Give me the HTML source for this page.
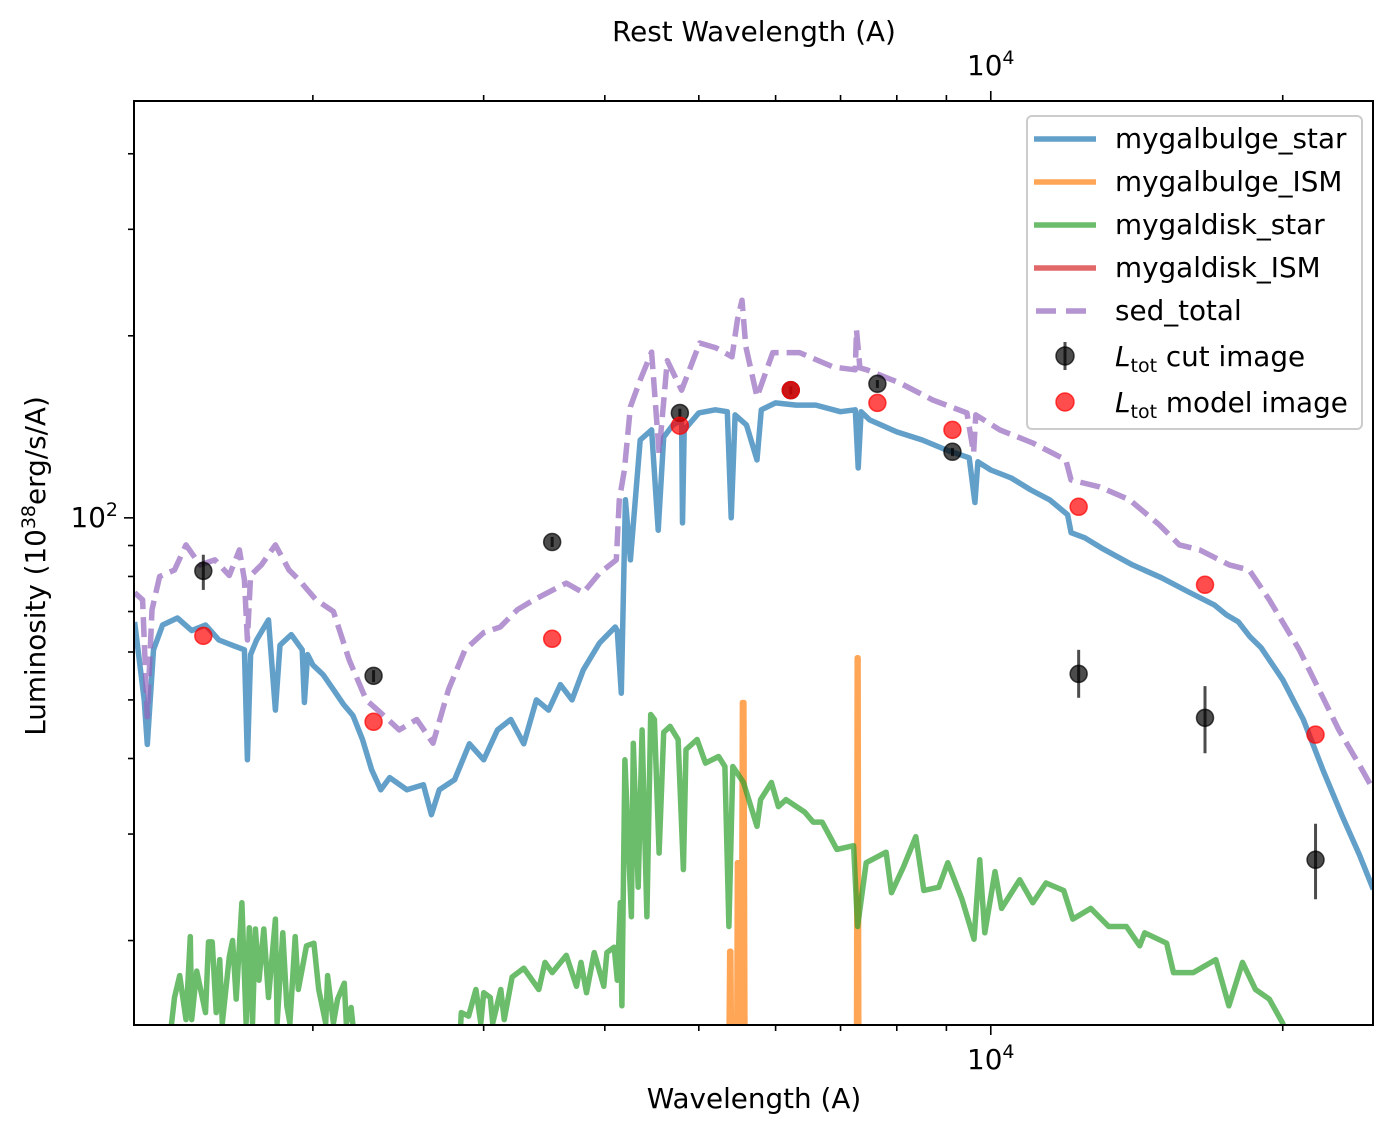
<!DOCTYPE html>
<html><head><meta charset="utf-8"><style>
html,body{margin:0;padding:0;background:#fff;width:1394px;height:1134px;overflow:hidden;position:relative}
svg{display:block;position:absolute;left:0;top:0;font-family:"DejaVu Sans","Liberation Sans",sans-serif}
</style></head><body>
<svg id="chart" width="1394" height="1134" viewBox="0 0 1394 1134" xmlns="http://www.w3.org/2000/svg">
<defs><clipPath id="pc"><rect x="134" y="101" width="1239" height="924"/></clipPath></defs>
<rect width="1394" height="1134" fill="#fff"/>
<g id="series" clip-path="url(#pc)"></g>
<g id="axes"></g>
<rect x="134" y="101" width="1239" height="924" fill="none" stroke="#000" stroke-width="2"/>
<text x="754" y="1108" font-size="27.8" text-anchor="middle">Wavelength (A)</text>
<text x="754" y="41" font-size="27.8" text-anchor="middle">Rest Wavelength (A)</text>
<text transform="translate(45,566) rotate(-90)" font-size="27.8" text-anchor="middle">Luminosity (10<tspan font-size="19" dy="-10">38</tspan><tspan dy="10">erg/s/A)</tspan></text>
<g>
<rect x="1027" y="116" width="335" height="313" rx="5" fill="#fff" fill-opacity="0.8" stroke="#ccc" stroke-width="2"/>
<line x1="1034" y1="139" x2="1096" y2="139" stroke="#1f77b4" stroke-opacity="0.7" stroke-width="5.5"/>
<text x="1115" y="148" font-size="27.8">mygalbulge_star</text>
<line x1="1034" y1="182" x2="1096" y2="182" stroke="#ff7f0e" stroke-opacity="0.7" stroke-width="5.5"/>
<text x="1115" y="191" font-size="27.8">mygalbulge_ISM</text>
<line x1="1034" y1="225" x2="1096" y2="225" stroke="#2ca02c" stroke-opacity="0.7" stroke-width="5.5"/>
<text x="1115" y="234" font-size="27.8">mygaldisk_star</text>
<line x1="1034" y1="268" x2="1096" y2="268" stroke="#d62728" stroke-opacity="0.7" stroke-width="5.5"/>
<text x="1115" y="277" font-size="27.8">mygaldisk_ISM</text>
<line x1="1036" y1="311" x2="1096" y2="311" stroke="#9467bd" stroke-opacity="0.7" stroke-width="5.5" stroke-dasharray="20,10"/>
<text x="1115" y="320" font-size="27.8">sed_total</text>
<line x1="1065" y1="342" x2="1065" y2="370" stroke="#000" stroke-opacity="0.7" stroke-width="3"/>
<circle cx="1065" cy="356" r="9" fill="#000" fill-opacity="0.7" stroke="#000" stroke-opacity="0.7" stroke-width="1.5"/>
<text x="1115" y="366" font-size="27.8"><tspan font-style="italic">L</tspan><tspan font-size="19" dy="6">tot</tspan><tspan dy="-6"> cut image</tspan></text>
<circle cx="1065" cy="402" r="9" fill="#ff0000" fill-opacity="0.7" stroke="#ff0000" stroke-opacity="0.7" stroke-width="1.5"/>
<text x="1115" y="412" font-size="27.8"><tspan font-style="italic">L</tspan><tspan font-size="19" dy="6">tot</tspan><tspan dy="-6"> model image</tspan></text>
</g>
</svg>
<script>
const bulgeWave=[1310,1340,1350,1370,1400,1450,1500,1550,1600,1650,1700,1712,1725,1750,1800,1830,1850,1900,1950,1960,1975,2000,2050,2100,2150,2200,2250,2300,2350,2400,2500,2600,2650,2700,2800,2900,3000,3100,3200,3300,3400,3500,3600,3700,3800,3950,4100,4120,4160,4200,4250,4350,4470,4540,4600,4700,4800,4810,4830,5000,5200,5350,5400,5450,5600,5740,5800,6000,6300,6600,7000,7250,7300,7350,7500,8000,8500,9000,9500,9630,9700,10000,10500,11000,11500,12000,12100,12500,13000,14000,15000,16000,17000,17500,18000,18500,19000,20000,21000,22000,23000,24000,24800];
const bulgeLum=[67.3,50,42.2,60.5,66.5,68.3,65.1,66.5,62.8,61.6,60.5,39.8,59.4,62.8,67.8,48.1,61.6,64.1,60.5,49.5,59.4,57.1,55,52,49.2,47.1,43,38.3,35.5,37.2,35.5,36.2,32.3,35.5,36.9,42.3,39.8,44.6,46.4,42.3,50,48.1,53,50,56,62.1,66,65.1,51.3,107.1,85.2,134.5,139.8,95.4,136,142.4,145.2,98.1,139.8,149.1,150.9,149.8,100,148,142.4,124.7,150.9,154.9,153.6,153.6,149.8,150.9,120.9,149.8,145.2,138.7,134.5,129.5,125.7,106,123.8,120,116.4,111.2,107.1,101.2,94.5,92.7,89.2,83.6,79.6,75.4,71.8,69.1,67.3,63.6,61,54,46.4,38.3,32.3,27.7,24.3];
const bulgeIsmWave=[1300,5370,5380,5395,5405,5470,5480,5500,5530,5545,5565,5580,7270,7282,7298,7310,24800];
const bulgeIsmLum=[1,1,19.2,19.2,1,1,26.9,26.9,1,49.5,49.5,1,1,58.7,58.7,1,1];
const diskWave=[1300,1410,1430,1440,1458,1480,1495,1500,1518,1550,1561,1575,1590,1603,1613,1640,1653,1667,1690,1707,1720,1733,1745,1760,1780,1800,1830,1837,1862,1880,1894,1918,1932,1970,2005,2028,2062,2071,2100,2121,2155,2165,2190,2215,2830,2845,2895,2945,2980,3000,3048,3065,3125,3150,3210,3300,3420,3470,3530,3650,3740,3780,3830,3900,3990,4020,4090,4120,4150,4165,4195,4260,4280,4330,4370,4420,4460,4500,4550,4600,4670,4760,4820,4850,4980,5080,5240,5320,5370,5420,5560,5740,5790,5940,6040,6150,6430,6560,6700,6940,7220,7290,7440,7800,7900,8130,8370,8530,8840,9030,9340,9610,9740,9860,10100,10260,10710,11050,11400,11890,12150,12680,13230,13800,14240,14410,15180,15430,16170,17060,17600,18180,18750,19370,20000,20300,24800];
const diskLum=[10,13,14.6,16.1,17.5,14.8,20.3,14.8,17.8,15.2,19.9,19.9,15.2,18.6,14.6,18.8,20,16,23.1,14.6,21,14.6,20.9,17.2,20.9,16.1,21.7,14.6,20.6,15.6,14.6,20.3,16.6,19.6,19.8,16.6,14.6,17.5,14.6,16,17,14.6,15.5,13,13,15.2,15,16.6,14.6,16.4,16.1,14.6,16.6,14.8,17.4,18,16.6,18.4,17.7,18.9,16.8,18.4,16.4,19.1,16.8,19.1,19.5,17.2,23.1,15.6,39.8,21.9,42.4,24.5,44.6,21.9,47.3,46.4,27.9,44.2,45.2,43,26.2,41.4,43,39.3,40.3,38.8,21.1,38.8,36.5,30.9,34.2,36.5,33.3,34.2,32.6,31.4,31.4,28.3,28.7,21.1,26.9,28,24,26.5,29.7,24.2,24.5,26.9,23.4,20.1,27.2,20.6,26,22.6,25.2,23.1,24.9,24.2,21.7,22.6,21.1,21.1,19.6,20.6,19.8,17.7,17.7,18.6,15.6,18.4,16.6,16,14.6,13,8];
const diskIsmWave=[1300,24800];
const diskIsmLum=[1,1];
const totalWave=[1310,1335,1350,1365,1390,1440,1480,1530,1585,1640,1680,1700,1712,1725,1770,1830,1890,1935,2015,2100,2180,2270,2360,2455,2560,2660,2760,2870,3000,3120,3250,3380,3650,3800,3950,4110,4140,4190,4250,4350,4470,4550,4640,4800,5010,5210,5410,5480,5540,5590,5740,5960,6350,6880,7250,7270,7330,7450,8060,8710,9450,9600,9650,10220,11050,11950,12100,12950,13900,14920,15650,16420,17620,18470,19370,20800,21800,22850,24000,24800];
const totalLum=[75.2,73.2,46.9,70.5,80,82,90.2,83.6,85.2,80.3,88.5,79,62.8,80.3,83.6,90.2,82,79,73.2,70,58.2,50,47.3,44.6,46.4,42.4,52,60.5,64.6,66,70.5,73.2,78,75.2,81,85.2,107.1,120,152.6,169,188,128,182,162.6,194.6,191,184.6,212.4,229,192,158.5,187.6,187.6,177.6,175.7,204.5,177,175.7,167.1,156.7,149.1,128,148,139.8,133,124.7,115.5,112.5,107.1,97.4,90.2,88.5,83.6,82,73.2,60.5,52,44.6,39,35.5];
const photWave=[1542,2310,3530,4780,6220,7640,9130,12320,16630,21620];
const cutLum=[81.7,54.8,91.2,149.1,162.6,166.6,128.6,55.2,46.7,27.2];
const cutLo=[76,53.5,89.5,146.5,160,164,126.5,50.4,40.8,23.4];
const cutHi=[86.9,56,93,151.5,165,169,130.5,60.5,52.7,31.2];
const modelLum=[63.8,46,63.1,142,162.6,154.9,139.8,104.3,77.5,43.8];
const xTickMinor=[2000,3000,4000,5000,6000,7000,8000,9000,20000];
const yTickMinor=[20,30,40,50,60,70,80,90,200,300,400];

const NS="http://www.w3.org/2000/svg";
const X0=134,X1=1373,Y0=101,Y1=1025;
const LX0=Math.log10(1308),LX1=Math.log10(24780),LY0=Math.log10(14.5),LY1=Math.log10(489);
function xs(w){return X0+(Math.log10(w)-LX0)/(LX1-LX0)*(X1-X0);}
function ys(v){return Y1-(Math.log10(v)-LY0)/(LY1-LY0)*(Y1-Y0);}
function mk(tag,attrs,parent){const e=document.createElementNS(NS,tag);for(const k in attrs)e.setAttribute(k,attrs[k]);parent.appendChild(e);return e;}
const S=document.getElementById('series'),A=document.getElementById('axes');
function line(wave,lum,color,name,dash){
  let d='';for(let i=0;i<wave.length;i++)d+=(i?'L':'M')+xs(wave[i]).toFixed(1)+' '+ys(Math.max(lum[i],13)).toFixed(1);
  const p=mk('path',{d:d,fill:'none',stroke:color,'stroke-opacity':0.7,'stroke-width':5.5,'stroke-linejoin':'round'},S);
  if(dash)p.setAttribute('stroke-dasharray',dash);
  
  
}
line(bulgeWave,bulgeLum,'#1f77b4','mygalbulge-star-line');
line(bulgeIsmWave,bulgeIsmLum,'#ff7f0e','mygalbulge-ism-line');
line(diskWave,diskLum,'#2ca02c','mygaldisk-star-line');
line(diskIsmWave,diskIsmLum,'#d62728','mygaldisk-ism-line');
line(totalWave,totalLum,'#9467bd','sed-total-line','20,8');
for(let i=0;i<photWave.length;i++){
  const x=xs(photWave[i]);
  const eb=mk('line',{x1:x,x2:x,y1:ys(cutLo[i]),y2:ys(cutHi[i]),stroke:'#000','stroke-opacity':0.7,'stroke-width':3},S);
  
  
  const c=mk('circle',{cx:x,cy:ys(cutLum[i]),r:8.5,fill:'#000','fill-opacity':0.7,stroke:'#000','stroke-opacity':0.7,'stroke-width':1.5},S);
  
  
}
for(let i=0;i<photWave.length;i++){
  const c=mk('circle',{cx:xs(photWave[i]),cy:ys(modelLum[i]),r:8.5,fill:'#ff0000','fill-opacity':0.7,stroke:'#ff0000','stroke-opacity':0.7,'stroke-width':1.5},S);
  
  
}
function tick(x1,y1,x2,y2,name){const t=mk('line',{x1:x1,y1:y1,x2:x2,y2:y2,stroke:'#000','stroke-width':1.6},A);
  
  }
xTickMinor.forEach(w=>{const x=xs(w);tick(x,Y1,x,Y1+6,'x-minor-tick');tick(x,Y0,x,Y0-6,'top-x-minor-tick');});
const xm=xs(10000);tick(xm,Y1,xm,Y1+10,'x-major-tick');tick(xm,Y0,xm,Y0-10,'top-x-major-tick');
yTickMinor.forEach(v=>{const y=ys(v);tick(X0,y,X0-6,y,'y-minor-tick');});
const ym=ys(100);tick(X0,ym,X0-10,ym,'y-major-tick');
function pow(x,y,anchor,base,exp,name){
  const t=mk('text',{x:x,y:y,'font-size':27.8,'text-anchor':anchor},A);
  
  
  const a=document.createElementNS(NS,'tspan');a.textContent=base;t.appendChild(a);
  const b=document.createElementNS(NS,'tspan');b.setAttribute('font-size','19');b.setAttribute('dy','-11');b.textContent=exp;t.appendChild(b);
}
pow(xm,1069,'middle','10','4','x-tick-label-1e4');
pow(xm,75,'middle','10','4','top-x-tick-label-1e4');
pow(X0-16,ym+9,'end','10','2','y-tick-label-1e2');
</script>
</body></html>
